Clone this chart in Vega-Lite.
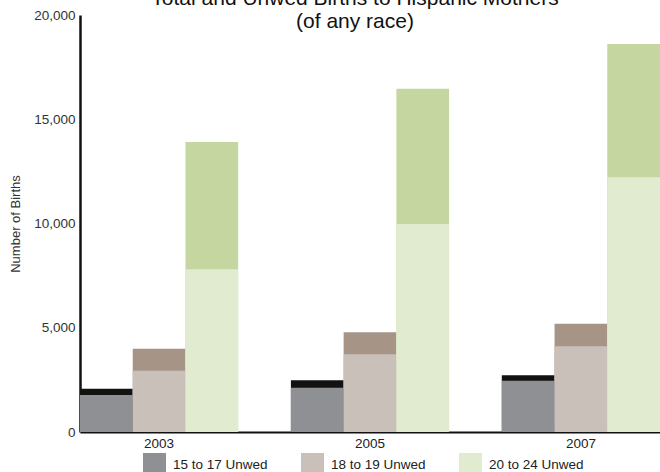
{
  "$schema": "https://vega.github.io/schema/vega-lite/v6.json",
  "autosize": "none",
  "padding": {"left": 80, "top": 15, "right": 0, "bottom": 40},
  "width": 580,
  "height": 417,
  "background": "white",
  "config": {"view": {"stroke": null}, "font": "Liberation Sans"},
  "title": {
    "text": ["Total and Unwed Births to Hispanic Mothers", "(of any race)"],
    "fontSize": 21,
    "font": "Liberation Sans",
    "fontWeight": "normal",
    "color": "#111111",
    "anchor": "middle",
    "baseline": "alphabetic",
    "offset": -41,
    "dx": -15,
    "lineHeight": 23
  },
  "data": {
    "values": [
      {"year": "2003", "age": "15 to 17", "unwed": 1780, "total": 2080},
      {"year": "2003", "age": "18 to 19", "unwed": 2940, "total": 3990},
      {"year": "2003", "age": "20 to 24", "unwed": 7810, "total": 13910},
      {"year": "2005", "age": "15 to 17", "unwed": 2125, "total": 2480},
      {"year": "2005", "age": "18 to 19", "unwed": 3725, "total": 4780},
      {"year": "2005", "age": "20 to 24", "unwed": 9975, "total": 16465},
      {"year": "2007", "age": "15 to 17", "unwed": 2460, "total": 2720},
      {"year": "2007", "age": "18 to 19", "unwed": 4110, "total": 5195},
      {"year": "2007", "age": "20 to 24", "unwed": 12215, "total": 18610}
    ]
  },
  "encoding": {
    "x": {
      "field": "year",
      "type": "nominal",
      "scale": {"paddingInner": 0.25, "paddingOuter": 0},
      "axis": {
        "title": null,
        "labelAngle": 0,
        "labelFontSize": 13.5,
        "labelColor": "#222222",
        "labelPadding": 4,
        "ticks": false,
        "tickSize": 0,
        "domainColor": "#111111",
        "domainWidth": 2
      }
    },
    "xOffset": {
      "field": "age",
      "type": "nominal",
      "scale": {"paddingInner": 0, "paddingOuter": 0}
    }
  },
  "layer": [
    {
      "mark": {"type": "bar", "strokeWidth": 0},
      "encoding": {
        "y": {
          "field": "total",
          "type": "quantitative",
          "stack": null,
          "scale": {"domain": [0, 20000]},
          "axis": {
            "title": "Number of Births",
            "values": [0, 5000, 10000, 15000, 20000],
            "format": ",.0f",
            "grid": false,
            "ticks": false,
            "tickSize": 0,
            "labelPadding": 5,
            "labelFontSize": 13.5,
            "labelColor": "#333333",
            "domainColor": "#111111",
            "domainWidth": 2.5,
            "titleFontSize": 13,
            "titleFontWeight": "normal",
            "titleColor": "#333333",
            "titlePadding": 11
          }
        },
        "color": {
          "field": "age",
          "type": "nominal",
          "scale": {"range": ["#141210", "#a69587", "#c5d6a0"]},
          "legend": null
        }
      }
    },
    {
      "mark": {"type": "bar", "strokeWidth": 0},
      "encoding": {
        "y": {
          "field": "unwed",
          "type": "quantitative",
          "stack": null,
          "title": "Number of Births",
          "axis": {"format": ",.0f"}
        },
        "color": {
          "field": "age",
          "type": "nominal",
          "scale": {"range": ["#8f9094", "#c9c0ba", "#e1ebd0"]},
          "legend": {
            "title": null,
            "orient": "none",
            "legendX": 63,
            "legendY": 438,
            "direction": "horizontal",
            "columns": 3,
            "symbolType": "square",
            "symbolSize": 529,
            "symbolStrokeWidth": 0,
            "symbolOpacity": 1,
            "labelFontSize": 13.5,
            "labelColor": "#222222",
            "labelOffset": 7,
            "columnPadding": 33,
            "padding": 0,
            "labelExpr": "datum.label + ' Unwed'"
          }
        }
      }
    }
  ],
  "resolve": {"scale": {"color": "independent"}}
}
